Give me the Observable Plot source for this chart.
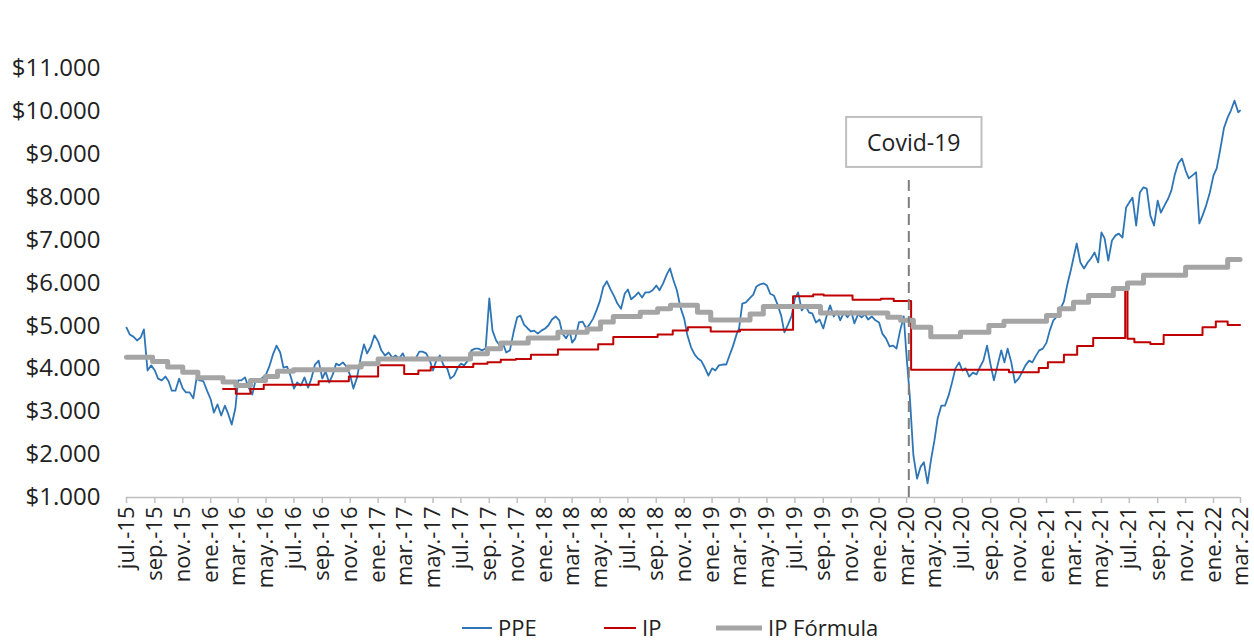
<!DOCTYPE html>
<html><head><meta charset="utf-8">
<script src="https://cdn.jsdelivr.net/npm/d3@7"></script>
<script src="https://cdn.jsdelivr.net/npm/@observablehq/plot@0.6"></script>
<style>
body{margin:0;background:#fff;font-family:'Open Sans',sans-serif}
#chart{width:1254px}
</style>
</head><body><div id="chart"></div><div id="legend"></div><script>
// ---- data ----
const monthNames = ["ene.","feb.","mar.","abr.","may.","jun.","jul.","ago.","sep.","oct.","nov.","dic."];
const yTicks = [1000,2000,3000,4000,5000,6000,7000,8000,9000,10000,11000];
const seriesNames = ["PPE","IP","IP Fórmula"];

// PPE: one row per month starting jul-2015, samples on days 1, 8, 16, 24
const ppeDays = [1, 8, 16, 24];
const ppeValues = [
 [4960,4800,4750,4660],[4730,4920,3960,4080],[3960,3770,3730,3820],[3710,3490,3490,3770],
 [3540,3450,3450,3310],[3770,3730,3710,3490],[3290,2980,3170,2910],[3140,2960,2700,3080],
 [3730,3730,3800,3560],[3400,3730,3730,3800],[3870,4050,4330,4540],[4380,4030,4050,3820],
 [3540,3680,3610,3800],[3560,3770,4100,4190],[3770,3940,3680,3870],[4120,4080,4150,4050],
 [3840,3540,3800,4260],[4570,4360,4520,4780],[4640,4430,4310,4380],[4260,4310,4240,4360],
 [4240,4220,4260,4240],[4400,4400,4360,4190],[3960,4190,4310,4080],[4010,3770,3840,4030],
 [4120,4080,4190,4430],[4470,4470,4430,4470],[5640,4890,4660,4540],[4590,4380,4430,4850],
 [5200,5240,5030,4940],[4870,4890,4820,4890],[4940,5010,5150,5220],[5130,4820,4710,4870],
 [4610,4710,5080,5100],[4940,5030,5170,5380],[5590,5900,6040,5850],[5690,5520,5400,5750],
 [5850,5620,5690,5780],[5660,5780,5780,5830],[5940,5830,5990,6200],[6340,6080,5830,5430],
 [5170,4780,4500,4330],[4240,4190,4030,3840],[4010,3960,4080,4100],[4100,4310,4540,4820],
 [4940,5520,5550,5640],[5730,5920,5970,5990],[5940,5750,5710,5500],[5240,4850,5030,5240],
 [5640,5780,5360,5480],[5310,5290,5080,5150],[4940,5220,5480,5220],[5340,5130,5310,5200],
 [5340,5060,5270,5200],[5270,5150,5220,5130],[5080,4820,4710,4520],[4540,4470,4890,5220],
 [4300,3380,1980,1440],[1720,1820,1330,1910],[2330,2840,3140,3140],[3380,3660,4010,4150],
 [3960,4010,3820,3910],[3870,4030,4190,4540],[4080,3730,4080,4430],[4150,4470,4150,3680],
 [3770,3910,4080,4190],[4150,4290,4430,4470],[4610,4890,5130,5220],[5410,5570,5990,6340],
 [6590,6920,6480,6340],[6480,6570,6710,6480],[7180,7040,6520,6990],[7110,7150,7060,7760],
 [7880,7990,7340,8110],[8230,8200,7570,7340],[7920,7640,7810,7970],[8160,8510,8790,8900],
 [8620,8440,8510,8580],[7390,7570,7810,8110],[8510,8670,9130,9620],[9860,10020,10250,9980]
];
const ppeLastDate = "2022-02-28";
const ppeLastValue = 10020;

const ipDates = ["2016-01-28","2016-02-25","2016-03-28","2016-04-26","2016-08-24","2016-10-29",
 "2017-01-01","2017-02-27","2017-03-30","2017-04-26","2017-07-28","2017-08-28","2017-09-26",
 "2017-10-29","2017-12-01","2018-01-29","2018-04-27","2018-05-30","2018-09-04","2018-10-07",
 "2018-11-09","2018-12-29","2019-03-03","2019-06-27","2019-08-10","2019-09-02","2019-11-04",
 "2020-01-05","2020-02-02","2020-03-11","2020-10-11","2020-12-15","2021-01-04","2021-02-08",
 "2021-03-09","2021-04-13","2021-06-22","2021-06-27","2021-07-12","2021-08-16","2021-09-14",
 "2021-12-08","2022-01-06","2022-02-01","2022-02-28"];
const ipValues = [3530,3420,3530,3630,3710,3820,
 4080,3880,3960,4040,4120,4150,4210,
 4230,4330,4450,4570,4740,4800,4890,
 4970,4870,4910,5690,5730,5710,5610,
 5630,5580,3980,3920,4020,4150,4330,
 4530,4720,5830,4700,4620,4580,4790,
 4970,5100,5020,5020];

const formulaDates = ["2015-07-01","2015-08-27","2015-09-29","2015-11-01","2015-12-04","2016-01-28",
 "2016-02-25","2016-03-28","2016-04-30","2016-05-26","2016-06-30","2016-10-27","2016-11-25",
 "2017-01-01","2017-07-22","2017-08-28","2017-09-26","2017-11-25","2018-01-29","2018-04-03",
 "2018-05-02","2018-05-30","2018-07-28","2018-09-04","2018-10-02","2018-11-30","2018-12-29",
 "2019-03-25","2019-04-23","2019-08-26","2020-01-20","2020-02-17","2020-03-16","2020-04-23",
 "2020-06-27","2020-08-28","2020-09-30","2021-01-01","2021-01-29","2021-03-01","2021-04-03",
 "2021-05-27","2021-06-27","2021-08-01","2021-11-01","2022-02-01","2022-02-28"];
const formulaValues = [4270,4170,4040,3920,3790,3690,
 3610,3730,3820,3940,3980,4040,4120,
 4230,4350,4470,4600,4720,4850,4930,
 5090,5220,5320,5400,5480,5320,5140,
 5280,5450,5300,5200,5130,4970,4750,
 4850,5010,5110,5240,5400,5550,5710,
 5870,6000,6180,6370,6550,6550];

const covidDate = "2020-03-06";
const covidLabel = "Covid-19";
const covidLineTop = 8450;
const covidLabelY = 9250;

const xStart = "2015-07-01", xEnd = "2022-03-01";

// ---- tables ----
const parse = s => new Date(s);
const ppe = [];
ppeValues.forEach((row, m) => row.forEach((v, k) =>
  ppe.push({date: new Date(Date.UTC(2015, 6 + m, ppeDays[k])), value: v})));
ppe.push({date: parse(ppeLastDate), value: ppeLastValue});
const ip = ipDates.map((d, i) => ({date: parse(d), value: ipValues[i]}));
const formula = formulaDates.map((d, i) => ({date: parse(d), value: formulaValues[i]}));
const covid = [{date: parse(covidDate), top: covidLineTop, labelY: covidLabelY, label: covidLabel}];

const xTicks = d3.utcMonth.every(2).range(parse(xStart), new Date(Date.UTC(2022, 2, 2)));
const fmtX = d => monthNames[d.getUTCMonth()] + "-" + String(d.getUTCFullYear()).slice(2);
const fmtY = d3.formatLocale({decimal: ",", thousands: ".", grouping: [3], currency: ["$", ""]}).format("$,.0f");

const colors = {PPE: "#2E75B6", IP: "#C00000", "IP Fórmula": "#A5A5A5"};

const chart = Plot.plot({
  width: 1254, height: 610,
  marginLeft: 126, marginRight: 14, marginTop: 68, marginBottom: 113,
  style: {fontFamily: "'Open Sans', sans-serif", background: "#fff", color: "#222"},
  x: {type: "utc", domain: [parse(xStart), parse(xEnd)]},
  y: {domain: [1000, 11000]},
  marks: [
    Plot.axisY({ticks: yTicks, tickFormat: fmtY, tickSize: 0, tickPadding: 26, fontSize: 24, fill: "#222", label: null}),
    Plot.axisX({ticks: xTicks, tickFormat: fmtX, tickRotate: -90, tickSize: 6, tickPadding: 3,
      stroke: "#BFBFBF", strokeWidth: 1.5, fill: "#222", fontSize: 22, label: null}),
    Plot.ruleY([1000], {stroke: "#BFBFBF", strokeWidth: 1.5}),
    Plot.line(ppe, {x: "date", y: "value", stroke: colors.PPE, strokeWidth: 1.8}),
    Plot.line(ip, {x: "date", y: "value", curve: "step-after", stroke: colors.IP, strokeWidth: 2}),
    Plot.line(formula, {x: "date", y: "value", curve: "step-after", stroke: colors["IP Fórmula"], strokeWidth: 5}),
    Plot.ruleX(covid, {x: "date", y1: () => 1000, y2: "top", stroke: "#7F7F7F", strokeWidth: 2, strokeDasharray: "11,6"}),
    Plot.text(covid, {x: "date", y: "labelY", text: "label", fontSize: 23, dx: 5, fill: "#222", className: "covid-label"})
  ]
});
document.getElementById("chart").append(chart);

// box around the Covid label (same transform as the text)
const t = chart.querySelector(".covid-label text");
if (t) {
  const bb = t.getBBox();
  const r = document.createElementNS("http://www.w3.org/2000/svg", "rect");
  r.setAttribute("x", bb.x - 21); r.setAttribute("y", bb.y - 9);
  r.setAttribute("width", bb.width + 42); r.setAttribute("height", bb.height + 18);
  r.setAttribute("fill", "#fff"); r.setAttribute("stroke", "#BFBFBF"); r.setAttribute("stroke-width", 2);
  const tr = t.getAttribute("transform");
  if (tr) r.setAttribute("transform", tr);
  t.parentNode.insertBefore(r, t);
}

// legend
const lg = d3.select("#legend").append("svg").attr("width", 1254).attr("height", 32)
  .style("font-family", "'Open Sans', sans-serif").style("display", "block");
const items = [
  {name: seriesNames[0], x: 462, w: 30, sw: 2},
  {name: seriesNames[1], x: 604, w: 32, sw: 2},
  {name: seriesNames[2], x: 716, w: 46, sw: 5}
];
items.forEach(it => {
  lg.append("line").attr("x1", it.x).attr("x2", it.x + it.w).attr("y1", 18).attr("y2", 18)
    .attr("stroke", colors[it.name]).attr("stroke-width", it.sw);
  lg.append("text").attr("x", it.x + it.w + 6).attr("y", 18).attr("dy", "0.35em")
    .attr("font-size", 22).attr("fill", "#222").text(it.name);
});
</script></body></html>
